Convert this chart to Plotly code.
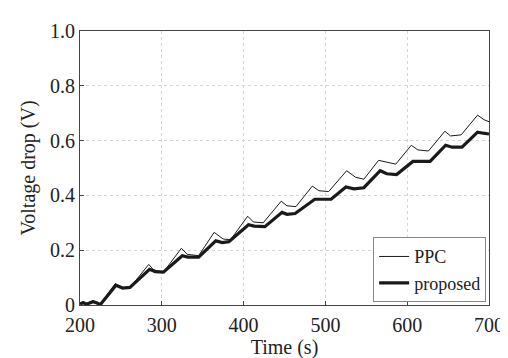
import plotly.graph_objects as go

t_ppc = [200, 204, 208, 212, 216, 220, 225, 243, 252, 261, 284, 290, 302, 324, 331, 345,
         364, 375, 384, 405, 412, 424, 446, 453, 464, 484, 492, 504, 526, 537, 547,
         565, 575, 586, 605, 613, 626, 646, 653, 666, 686, 694, 700]
v_ppc = [0.008, 0.012, 0.006, 0.010, 0.016, 0.010, 0.004, 0.078, 0.060, 0.063, 0.148, 0.128, 0.120,
         0.207, 0.185, 0.180, 0.265, 0.241, 0.238, 0.324, 0.303, 0.300, 0.379, 0.362, 0.359,
         0.434, 0.417, 0.414, 0.490, 0.466, 0.459, 0.528, 0.520, 0.514, 0.583, 0.566, 0.562,
         0.634, 0.617, 0.621, 0.693, 0.676, 0.669]

t_prop = [200, 204, 208, 212, 216, 220, 225, 244, 252, 261, 285, 292, 302, 325, 332, 345,
          366, 374, 382, 406, 413, 426, 447, 453, 463, 487, 493, 507, 525, 535, 547,
          567, 575, 587, 607, 617, 628, 647, 655, 667, 686, 693, 700]
v_prop = [0.004, 0.008, 0.003, 0.007, 0.012, 0.008, 0.002, 0.072, 0.062, 0.064, 0.130, 0.122, 0.120,
          0.180, 0.175, 0.175, 0.234, 0.228, 0.231, 0.293, 0.288, 0.286, 0.338, 0.331, 0.334,
          0.386, 0.386, 0.386, 0.431, 0.424, 0.428, 0.490, 0.479, 0.476, 0.524, 0.524, 0.524,
          0.583, 0.576, 0.576, 0.631, 0.627, 0.624]

x_ticks = [200, 300, 400, 500, 600, 700]
y_ticks = [0, 0.2, 0.4, 0.6, 0.8, 1.0]
y_ticktext = ["0", "0.2", "0.4", "0.6", "0.8", "1.0"]

FONT = "Liberation Serif, 'Times New Roman', serif"
TXT = "#222"

fig = go.Figure()
fig.add_trace(go.Scatter(x=t_ppc, y=v_ppc, mode="lines", name="PPC",
                         line=dict(color="#1a1a1a", width=1)))
fig.add_trace(go.Scatter(x=t_prop, y=v_prop, mode="lines", name="proposed",
                         line=dict(color="#1a1a1a", width=3.2)))

fig.update_layout(
    width=508, height=358,
    margin=dict(l=72, r=21, t=15, b=53),
    paper_bgcolor="white", plot_bgcolor="white",
    font=dict(family=FONT, size=20, color=TXT),
    showlegend=True,
    legend=dict(x=0.993, y=0.01, xanchor="right", yanchor="bottom",
                bgcolor="white", bordercolor="#888", borderwidth=1,
                font=dict(family=FONT, size=18, color=TXT),
                tracegroupgap=0, itemwidth=30),
)
fig.update_xaxes(range=[200, 700], tickvals=x_ticks, ticks="inside", ticklen=4,
                 tickcolor="#444", showline=True, linecolor="#444", linewidth=1, mirror=True,
                 showgrid=True, gridcolor="#d4d4d4", griddash="dot", gridwidth=1,
                 zeroline=False, ticklabelstandoff=2,
                 title=dict(text="Time (s)", standoff=4,
                            font=dict(family=FONT, size=20, color=TXT)),
                 tickfont=dict(family=FONT, size=20, color=TXT))
fig.update_yaxes(range=[0, 1.0], tickvals=y_ticks, ticktext=y_ticktext, ticks="inside", ticklen=4,
                 tickcolor="#444", showline=True, linecolor="#444", linewidth=1, mirror=True,
                 showgrid=True, gridcolor="#d4d4d4", griddash="dot", gridwidth=1,
                 zeroline=False,
                 title=dict(text="Voltage drop (V)", standoff=9,
                            font=dict(family=FONT, size=20, color=TXT)),
                 tickfont=dict(family=FONT, size=20, color=TXT))

fig.write_html("out.html")
